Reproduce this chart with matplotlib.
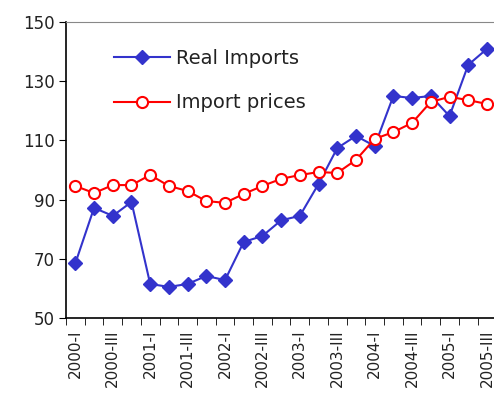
import matplotlib
matplotlib.use("Agg")
import matplotlib.pyplot as plt
import numpy as np

quarters = [f"{y}-{q}" for y in range(2000, 2006) for q in ["I", "II", "III", "IV"]][:23]

real_imports = [68.5, 87.2, 84.5, 89.2, 61.5, 60.5, 61.5, 64.2, 62.8, 75.7, 77.7, 83.0,
                84.5, 95.3, 107.4, 111.5, 108.1, 125.0, 124.3, 125.0, 118.2, 135.5, 140.9]
import_prices = [94.6, 92.2, 94.9, 94.9, 98.3, 94.6, 92.9, 89.5, 88.9, 91.9, 94.6, 97.0,
                 98.3, 99.3, 99.0, 103.4, 110.5, 112.8, 115.9, 123.0, 124.7, 123.6, 122.3]

y_ticks = [50, 70, 90, 110, 130, 150]

plt.rcParams["font.family"] = ["DejaVu Sans"]
plt.rcParams["text.color"] = "#222222"
plt.rcParams["xtick.labelcolor"] = "#222222"
plt.rcParams["ytick.labelcolor"] = "#222222"

fig = plt.figure(figsize=(4.94, 4.05), dpi=100)
ax = fig.add_axes([0.1336, 0.2148, 0.871, 0.731])

x = np.arange(len(quarters))
ax.plot(x, real_imports, color="#3333CC", lw=1.5, marker="D", ms=7.5,
        mfc="#3333CC", mec="#3333CC", label="Real Imports", zorder=3)
ax.plot(x, import_prices, color="#FF0000", lw=1.5, marker="o", ms=8,
        mfc="white", mec="#FF0000", mew=1.5, label="Import prices", zorder=3)

ax.set_xlim(-0.5, len(quarters) - 0.5)
ax.set_ylim(50, 150)
ax.set_yticks(y_ticks)
ax.tick_params(axis="y", direction="out", length=5, labelsize=12, pad=3)

# labels on every other quarter, tick marks on the category boundaries
ax.set_xticks(x[::2])
ax.set_xticklabels(quarters[::2], rotation=90, fontsize=11)
ax.tick_params(axis="x", which="major", length=0, pad=8)
ax.set_xticks(np.arange(-0.5, len(quarters), 1.0), minor=True)
ax.tick_params(axis="x", which="minor", direction="out", length=5)

ax.spines["right"].set_visible(False)
ax.spines["top"].set_color("#888888")
for s in ["left", "bottom"]:
    ax.spines[s].set_linewidth(1.2)

ax.legend(loc="upper left", bbox_to_anchor=(0.07, 0.967), frameon=False,
          fontsize=14, labelspacing=1.3, handlelength=2.9, handletextpad=0.3)

fig.savefig("out.png", dpi=100)
